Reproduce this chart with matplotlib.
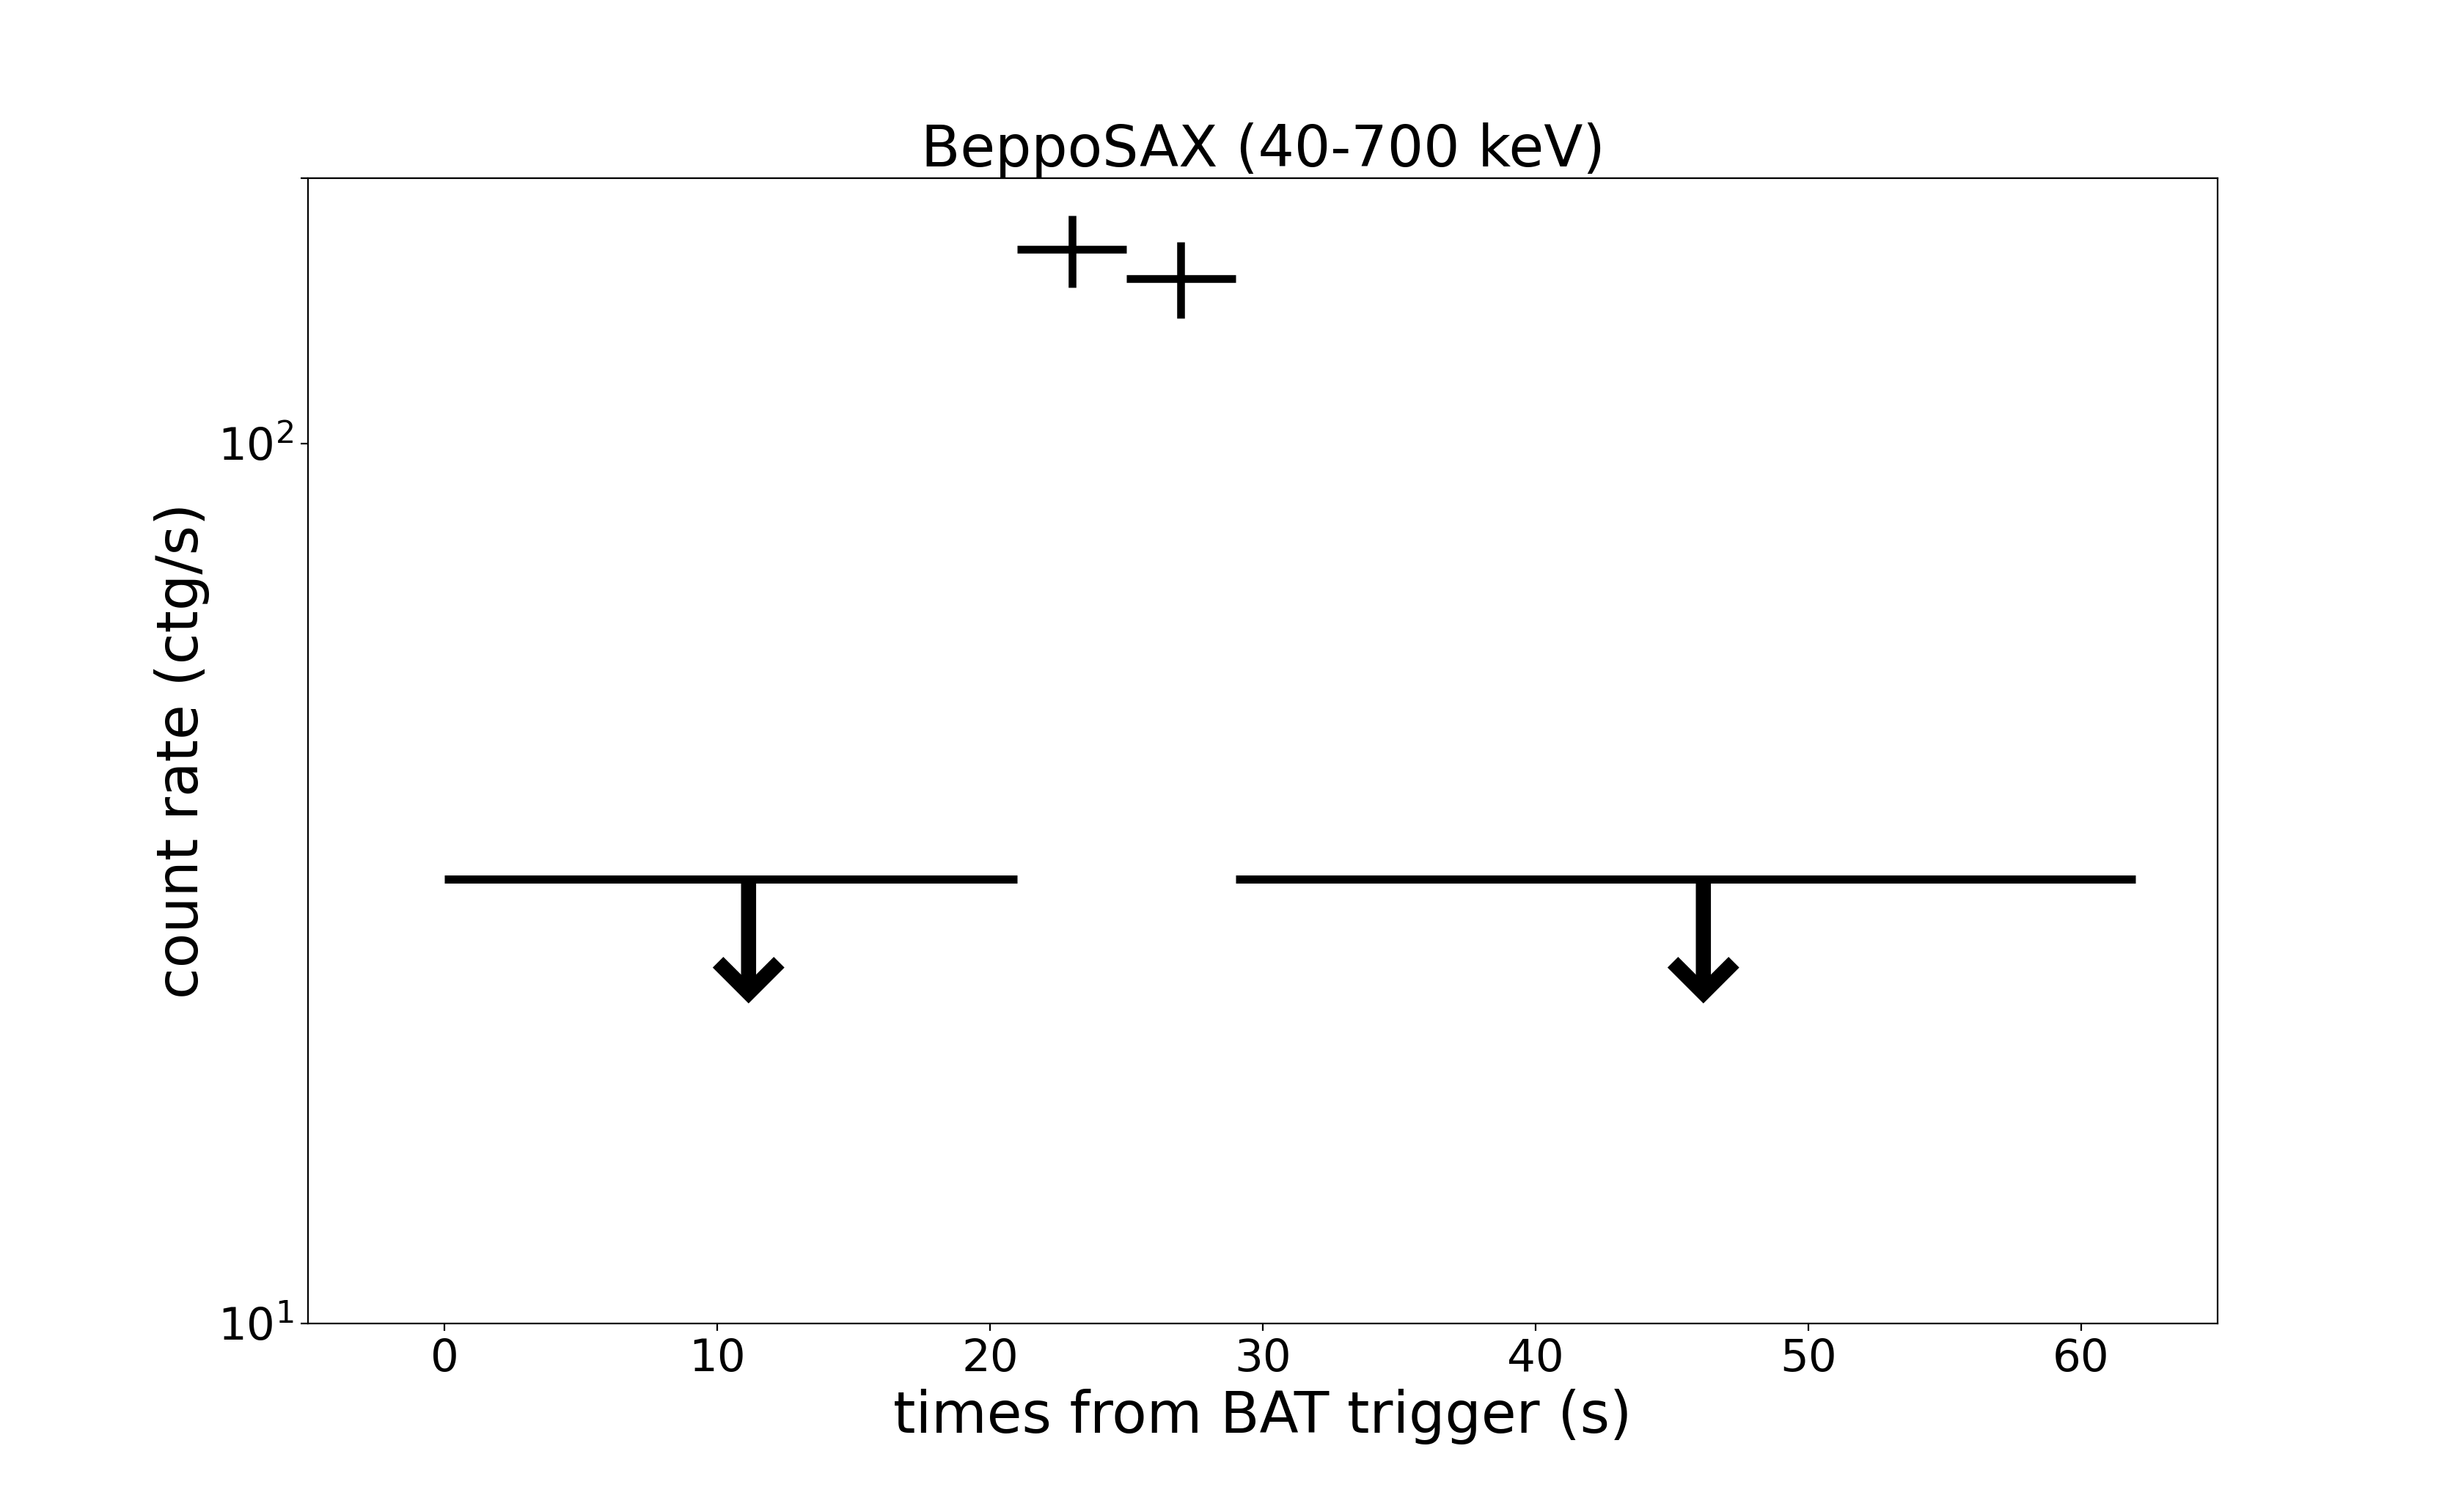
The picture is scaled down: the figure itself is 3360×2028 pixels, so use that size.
import matplotlib
matplotlib.use("Agg")
import matplotlib.pyplot as plt

# detected points (time, rate, errors)
t_det = [23, 27]
t_det_err = [2, 2]
rate_det = [166, 154]
rate_det_err = [15.5, 15.3]

# upper limits: time bins and limit value
ul_t_start = [0, 29]
ul_t_end = [21, 62]
ul_t_arrow = [11.15, 46.15]
ul_rate = [32, 32]
ul_rate_arrow = [23.1, 23.1]

title = "BeppoSAX (40-700 keV)"
xlab = "times from BAT trigger (s)"
ylab = "count rate (ctg/s)"
xticks = [0, 10, 20, 30, 40, 50, 60]
yticks = [10, 100, 200]
ytick_labels = ["$10^1$", "$10^2$", ""]

fig = plt.figure(figsize=(16.8, 10.14), dpi=200)
ax = fig.add_subplot(111)

ax.errorbar(t_det, rate_det, xerr=t_det_err, yerr=rate_det_err,
            fmt="none", ecolor="k", elinewidth=3.8)

ax.hlines(ul_rate, ul_t_start, ul_t_end, colors="k", linewidth=4)
for xa, y0, y1 in zip(ul_t_arrow, ul_rate, ul_rate_arrow):
    ax.annotate("", xy=(xa, y1), xytext=(xa, y0),
                arrowprops=dict(arrowstyle="->,head_length=0.75,head_width=0.75",
                                lw=7.4, color="k", shrinkA=0, shrinkB=0,
                                mutation_scale=20, capstyle="butt",
                                joinstyle="miter"))

ax.set_yscale("log")
ax.set_xlim(-5, 65)
ax.set_ylim(10, 200)
ax.set_xticks(xticks)
ax.set_yticks(yticks)
ax.set_yticklabels(ytick_labels)
ax.minorticks_off()
ax.tick_params(labelsize=22)

ax.set_title(title, fontsize=28)
ax.set_xlabel(xlab, fontsize=28)
ax.set_ylabel(ylab, fontsize=28)

fig.savefig("out.png", dpi=200)
